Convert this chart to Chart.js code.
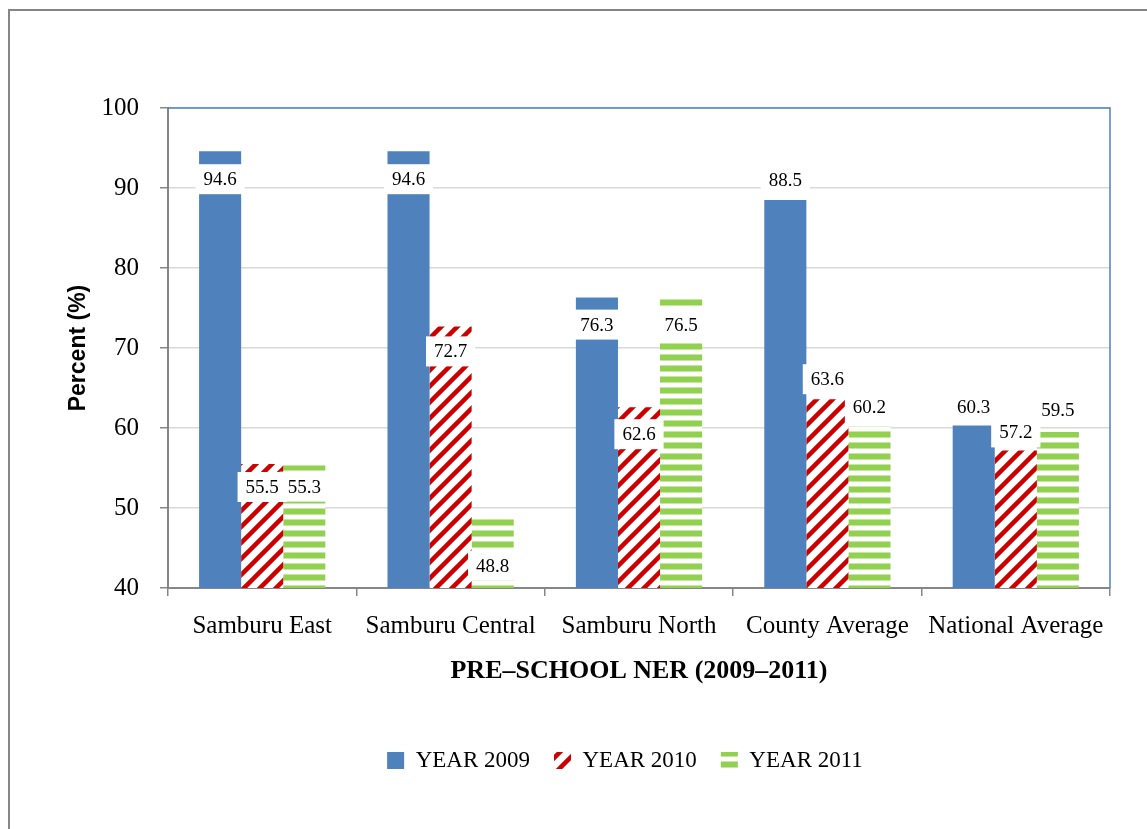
<!DOCTYPE html>
<html>
<head>
<meta charset="utf-8">
<script src="https://cdn.jsdelivr.net/npm/chart.js@4"></script>
<style>
  html, body { margin: 0; padding: 0; background: #fff; }
  #wrap { width: 1147px; height: 829px; }
</style>
</head>
<body>
<div id="wrap"><canvas id="myChart" width="1147" height="829"></canvas></div>
<script>
// data
const categories = ['Samburu East', 'Samburu Central', 'Samburu North', 'County Average', 'National Average'];
const year2009 = [94.6, 94.6, 76.3, 88.5, 60.3];
const year2010 = [55.5, 72.7, 62.6, 63.6, 57.2];
const year2011 = [55.3, 48.8, 76.5, 60.2, 59.5];
const seriesNames = ['YEAR 2009', 'YEAR 2010', 'YEAR 2011'];
const yTicks = [40, 50, 60, 70, 80, 90, 100];

// where each value label sits relative to its bar top (px, + is down)
const labelNudge = [
  [28, 28, 27, -20, -19],
  [23, 25, 27, -20, -18],
  [21, 48, 29, -19, -22]
];

const serif = "'Liberation Serif', 'DejaVu Serif', serif";

// red "/" stripes
function diagPattern() {
  const c = document.createElement('canvas');
  c.width = 16; c.height = 16;
  const g = c.getContext('2d');
  g.fillStyle = '#fff';
  g.fillRect(0, 0, 16, 16);
  g.strokeStyle = '#cc0000';
  g.lineWidth = 4.5;
  g.beginPath();
  g.moveTo(-8, 8); g.lineTo(8, -8);
  g.moveTo(0, 16); g.lineTo(16, 0);
  g.moveTo(8, 24); g.lineTo(24, 8);
  g.stroke();
  return g.createPattern(c, 'repeat');
}

// green horizontal stripes
function hPattern() {
  const c = document.createElement('canvas');
  c.width = 8; c.height = 11;
  const g = c.getContext('2d');
  g.fillStyle = '#fff';
  g.fillRect(0, 0, 8, 11);
  g.fillStyle = '#c6e6a4';
  g.fillRect(0, 2, 8, 7);
  g.fillStyle = '#92d050';
  g.fillRect(0, 3, 8, 5);
  return g.createPattern(c, 'repeat');
}

const framePlugin = {
  id: 'frame',
  afterLayout(chart) {
    // legend sits a bit left of the plot centre in the original
    const lg = chart.legend;
    lg.left -= 14;
    lg.right -= 14;
  },
  beforeDraw(chart) {
    const ctx = chart.ctx;
    ctx.save();
    ctx.fillStyle = '#fff';
    ctx.fillRect(0, 0, chart.width, chart.height);
    ctx.strokeStyle = '#868686';
    ctx.lineWidth = 2;
    ctx.beginPath();
    ctx.moveTo(9, chart.height + 2);
    ctx.lineTo(9, 10);
    ctx.lineTo(chart.width + 2, 10);
    ctx.stroke();
    ctx.restore();
  },
  beforeDatasetsDraw(chart) {
    const {ctx, chartArea} = chart;
    ctx.save();
    ctx.strokeStyle = '#4f81bd';
    ctx.lineWidth = 1.5;
    ctx.beginPath();
    ctx.moveTo(chartArea.left, chartArea.top);
    ctx.lineTo(chartArea.right, chartArea.top);
    ctx.lineTo(chartArea.right, chartArea.bottom);
    ctx.stroke();
    ctx.restore();
  }
};

const valueLabels = {
  id: 'valueLabels',
  afterDatasetsDraw(chart) {
    const ctx = chart.ctx;
    ctx.save();
    ctx.font = '19px ' + serif;
    ctx.textAlign = 'center';
    ctx.textBaseline = 'middle';
    chart.data.datasets.forEach((ds, di) => {
      const meta = chart.getDatasetMeta(di);
      meta.data.forEach((bar, i) => {
        const txt = ds.data[i].toFixed(1);
        const y = bar.y + labelNudge[di][i];
        const w = ctx.measureText(txt).width + 16;
        ctx.fillStyle = '#fff';
        ctx.fillRect(bar.x - w / 2, y - 15, w, 30);
        ctx.fillStyle = '#000';
        ctx.fillText(txt, bar.x, y + 1);
      });
    });
    ctx.restore();
  }
};

const colours = ['#4f81bd', diagPattern(), hPattern()];
const values = [year2009, year2010, year2011];

const myChart = document.getElementById('myChart');

let barChart = new Chart(myChart, {
  type: 'bar',
  data: {
    labels: categories,
    datasets: seriesNames.map((name, k) => ({
      label: name,
      data: values[k],
      backgroundColor: colours[k],
      borderWidth: 0,
      categoryPercentage: 0.67,
      barPercentage: 1
    }))
  },
  options: {
    responsive: false,
    animation: false,
    layout: { padding: { top: 108, right: 37, bottom: 47, left: 0 } },
    plugins: {
      legend: {
        position: 'bottom',
        fullSize: false,
        labels: {
          boxWidth: 17,
          boxHeight: 17,
          padding: 24,
          color: '#000',
          font: { family: serif, size: 23 }
        }
      },
      tooltip: { enabled: false }
    },
    scales: {
      x: {
        afterFit(scale) { scale.height = 137; },
        grid: {
          display: true,
          offset: true,
          drawOnChartArea: false,
          tickLength: 8,
          tickColor: '#868686',
          lineWidth: 1.5
        },
        border: { color: '#868686', width: 2 },
        ticks: {
          color: '#000',
          padding: 15,
          maxRotation: 0,
          autoSkip: false,
          font: { family: serif, size: 25 }
        },
        title: {
          display: true,
          text: 'PRE–SCHOOL NER (2009–2011)',
          color: '#000',
          padding: { top: 0, bottom: 38 },
          font: { family: serif, size: 26, weight: 'bold' }
        }
      },
      y: {
        min: yTicks[0],
        max: yTicks[yTicks.length - 1],
        afterFit(scale) { scale.width = 168; },
        afterBuildTicks(scale) { scale.ticks = yTicks.map(v => ({ value: v })); },
        grid: {
          color: '#d9d9d9',
          lineWidth: 1.5,
          tickLength: 8,
          tickColor: '#868686'
        },
        border: { color: '#868686', width: 2 },
        ticks: {
          color: '#000',
          padding: 21,
          font: { family: serif, size: 25 }
        },
        title: {
          display: true,
          text: 'Percent (%)',
          color: '#000',
          padding: { top: 65, bottom: 0 },
          font: { family: "'Liberation Sans', Arial, sans-serif", size: 23, weight: 'bold' }
        }
      }
    }
  },
  plugins: [framePlugin, valueLabels]
});
</script>
</body>
</html>
